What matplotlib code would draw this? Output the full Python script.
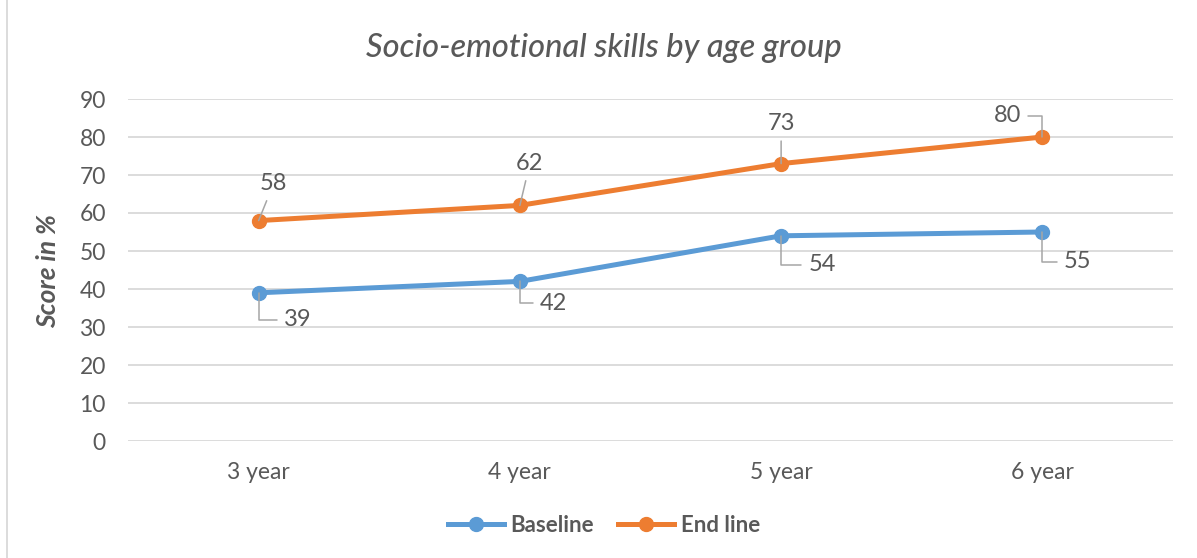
import matplotlib
matplotlib.use("Agg")
import matplotlib.pyplot as plt
from matplotlib.lines import Line2D

# data
ages = ["3 year", "4 year", "5 year", "6 year"]
baseline = [39, 42, 54, 55]
endline = [58, 62, 73, 80]

blue = "#5B9BD5"
orange = "#ED7D31"
txt = "#595959"
lead = "#A6A6A6"

plt.rcParams['font.family'] = ['Lato', 'DejaVu Sans']

W, H = 1197, 558
fig = plt.figure(figsize=(W / 100, H / 100), dpi=100)
ax = fig.add_axes([128 / W, 1 - 441 / H, (1173 - 128) / W, (441 - 99) / H])

x = list(range(len(ages)))
ax.plot(x, baseline, color=blue, lw=3.6, marker="o", ms=10, solid_capstyle="round", zorder=3)
ax.plot(x, endline, color=orange, lw=3.6, marker="o", ms=10, solid_capstyle="round", zorder=3)

ax.set_xlim(-0.5, len(ages) - 0.5)
ax.set_ylim(0, 90)
ax.set_yticks(range(0, 91, 10))
ax.set_xticks(x)
ax.set_xticklabels(ages)
ax.grid(axis="y", color="#D9D9D9", lw=1.3, zorder=0)
ax.set_axisbelow(True)
for s in ax.spines.values():
    s.set_visible(False)
ax.tick_params(axis="both", length=0, labelsize=16.5, colors=txt)
ax.tick_params(axis="y", pad=16)
ax.tick_params(axis="x", pad=15)

ax.set_ylabel("Score in %", fontsize=19, fontweight="bold", fontstyle="italic", color=txt)
ax.yaxis.set_label_coords(-(128 - 60) / (1173 - 128), 0.5 - (271 - 270) / 342)

fig.text(604 / W, 1 - 48 / H, "Socio-emotional skills by age group", ha="center", va="center",
         fontsize=23.5, fontstyle="italic", fontweight="medium", color=txt)

# data labels: (dx, dy) pixel offsets and leader style
end_off = [(15, 37, "arc3"), (10, 42, "arc3"), (0, 40, "arc3"), (-35, 21, "elbow")]
base_off = [(39, -27, "elbow"), (34, -22, "elbow"), (41, -29, "elbow"), (35, -30, "elbow")]

def label(i, v, off):
    dx, dy, kind = off
    cs = "angle,angleA=0,angleB=90,rad=0" if kind == "elbow" else "arc3"
    ax.annotate(str(v), xy=(i, v), xytext=(dx, dy), textcoords="offset pixels",
                ha="center", va="center", fontsize=17, color=txt, zorder=5,
                arrowprops=dict(arrowstyle="-", color=lead, lw=1.1, connectionstyle=cs,
                                shrinkA=3, shrinkB=0))

for i, v in enumerate(endline):
    label(i, v, end_off[i])
for i, v in enumerate(baseline):
    label(i, v, base_off[i])

handles = [Line2D([], [], color=blue, lw=3.6, marker="o", ms=10),
           Line2D([], [], color=orange, lw=3.6, marker="o", ms=10)]
fig.legend(handles, ["Baseline", "End line"], loc="center", bbox_to_anchor=(604 / W, 1 - 525 / H),
           ncol=2, frameon=False, handlelength=2.5, handletextpad=0.3, columnspacing=1.1,
           prop=dict(size=16, weight="bold"), labelcolor=txt)

fig.add_artist(Line2D([7 / W, 7 / W], [0, 1], color="#D9D9D9", lw=1.3, transform=fig.transFigure))

fig.savefig("out.png", dpi=100)
